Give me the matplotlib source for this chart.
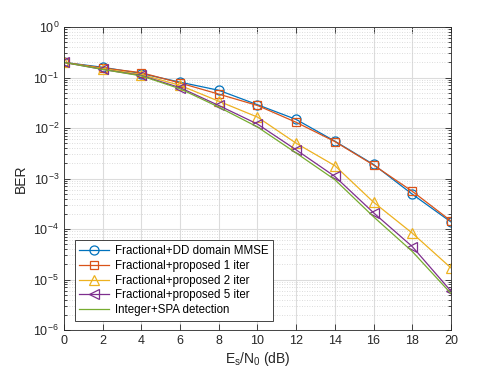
import matplotlib
matplotlib.use("Agg")
import matplotlib.pyplot as plt
from matplotlib.ticker import FixedLocator, LogFormatterSciNotation, NullFormatter

snr_db = [0, 2, 4, 6, 8, 10, 12, 14, 16, 18, 20]

ber_mmse = [0.20, 0.16, 0.12, 0.081, 0.056, 0.029, 0.0148, 0.0055, 0.0019, 4.9e-4, 1.38e-4]
ber_iter1 = [0.20, 0.155, 0.125, 0.078, 0.047, 0.028, 0.013, 0.0054, 0.00185, 5.6e-4, 1.45e-4]
ber_iter2 = [0.20, 0.15, 0.115, 0.07, 0.034, 0.0165, 0.005, 0.0018, 3.4e-4, 8.3e-5, 1.7e-5]
ber_iter5 = [0.20, 0.145, 0.11, 0.063, 0.028, 0.012, 0.0037, 0.0011, 2.1e-4, 4.5e-5, 5.9e-6]
ber_integer = [0.20, 0.145, 0.108, 0.060, 0.026, 0.0105, 0.0032, 0.00095, 1.75e-4, 3.6e-5, 5.3e-6]

labels = [
    "Fractional+DD domain MMSE",
    "Fractional+proposed 1 iter",
    "Fractional+proposed 2 iter",
    "Fractional+proposed 5 iter",
    "Integer+SPA detection",
]

y_major = [1e-6, 1e-5, 1e-4, 1e-3, 1e-2, 1e-1, 1e0]
y_minor = [m * 10.0 ** e for e in range(-6, 0) for m in range(2, 10)]

plt.rcParams["font.family"] = ["Liberation Sans", "DejaVu Sans"]

fig = plt.figure(figsize=(4.98, 3.74), dpi=100, facecolor="white")
ax = fig.add_axes([0.1285, 0.1176, 0.777, 0.810])

series = [ber_mmse, ber_iter1, ber_iter2, ber_iter5, ber_integer]
colors = ["#0072BD", "#D95319", "#EDB120", "#7E2F8E", "#77AC30"]
markers = ["o", "s", "^", "<", None]
msizes = [6.5, 5.5, 7, 7, 0]

for ys, c, m, ms, lab in zip(series, colors, markers, msizes, labels):
    ax.semilogy(snr_db, ys, color=c, marker=m, markersize=ms, markerfacecolor="none",
                markeredgecolor=c, markeredgewidth=0.9, linewidth=0.9, label=lab)

ax.set_xlim(0, 20)
ax.set_ylim(1e-6, 1)
ax.xaxis.set_major_locator(FixedLocator(snr_db))
ax.yaxis.set_major_locator(FixedLocator(y_major))
ax.yaxis.set_major_formatter(LogFormatterSciNotation())
ax.yaxis.set_minor_locator(FixedLocator(y_minor))
ax.yaxis.set_minor_formatter(NullFormatter())

ax.grid(True, which="major", color="#dcdcdc", linewidth=0.8, linestyle="-")
ax.grid(True, which="minor", axis="y", color="#d0d0d0", linewidth=0.6, linestyle=(0, (1, 2)))
ax.set_axisbelow(True)

ax.tick_params(which="both", direction="in", top=True, right=True, labelsize=9,
               colors="#262626", width=0.6)
ax.tick_params(which="major", length=4)
ax.tick_params(which="minor", length=2)
for s in ax.spines.values():
    s.set_color("#262626")
    s.set_linewidth(0.6)

ax.set_xlabel(r"E$_\mathregular{s}$/N$_\mathregular{0}$ (dB)", fontsize=10, color="#262626",
              labelpad=2)
ax.set_ylabel("BER", fontsize=10, color="#262626")

leg = ax.legend(loc="lower left", bbox_to_anchor=(0.028, 0.03), fontsize=8.3,
                frameon=True, fancybox=False, edgecolor="#262626", framealpha=1,
                handlelength=2.6, borderpad=0.4, labelspacing=0.25, handletextpad=0.5,
                borderaxespad=0)
leg.get_frame().set_linewidth(0.6)

fig.savefig("out.png", dpi=100)
